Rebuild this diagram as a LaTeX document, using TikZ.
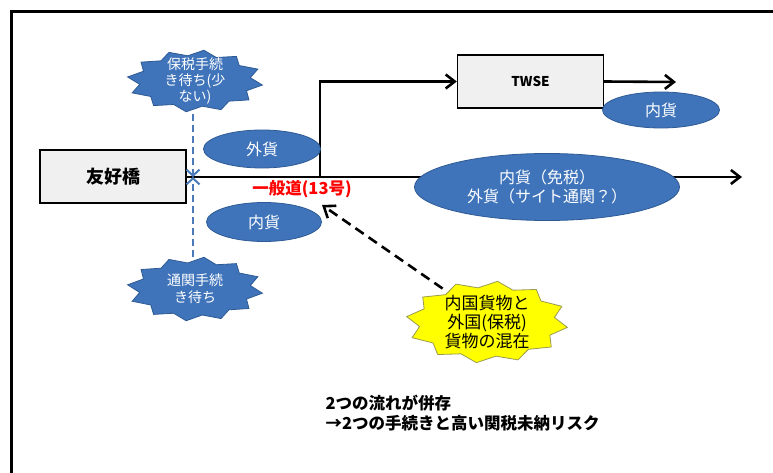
\documentclass[tikz,border=0pt]{standalone}
\usepackage{fontspec}
\setmainfont{Noto Sans CJK JP}
\usetikzlibrary{arrows.meta,shapes.geometric}
\definecolor{eblue}{HTML}{3F74BB}
\definecolor{eborder}{HTML}{2E5A94}
\definecolor{dblue}{HTML}{4A7AB8}
\definecolor{boxgray}{HTML}{F0F0F0}
\definecolor{roadred}{HTML}{FF0000}
\definecolor{ystar}{HTML}{FFFF00}
\definecolor{ystarb}{HTML}{9A9A50}
\pgfdeclarelayer{bg}
\pgfsetlayers{bg,main}
\tikzset{
  box/.style={draw=black,line width=1.4pt,fill=boxgray,minimum width=146pt,minimum height=53pt,font=\bfseries\fontsize{18}{18}\selectfont},
  oval/.style={ellipse,draw=eborder,line width=0.8pt,fill=eblue,text=white,inner sep=0pt,font=\fontsize{16}{19}\selectfont,align=center},
  sealtext/.style={ellipse,draw=none,inner sep=0pt,align=center},
  road/.style={line width=2.6pt,draw=black},
  roadarrow/.style={road,-{Straight Barb[length=9pt,width=14pt,line width=2.6pt]}},
  waitline/.style={draw=dblue,line width=2.6pt,dash pattern=on 7pt off 4pt,-{Straight Barb[length=6pt,width=13pt,line width=2pt]}},
  mixline/.style={draw=black,line width=2.6pt,dash pattern=on 10pt off 6pt,-{Straight Barb[length=10pt,width=15pt,line width=2.6pt]}},
}
\newcommand{\sealshape}[6]{% center, rx, ry, inner ratio, fill, draw
  \path[fill=#5,draw=#6,line width=0.8pt,shift={(#1)}]
    plot[samples at={0,...,23},variable=\i]
    ({(mod(\i,2)==0 ? #2 : #2*#4)*cos(\i*15+7.5)},{(mod(\i,2)==0 ? #3 : #3*#4)*sin(\i*15+7.5)}) -- cycle;}
\begin{document}
\begin{tikzpicture}[x=1pt,y=-1pt]
\useasboundingbox (0,0) rectangle (773,473);
\begin{pgfonlayer}{bg}
\fill[white] (0,0) rectangle (773,473);
\end{pgfonlayer}
% frame
\draw[line width=3pt] (11,480) -- (11,12) -- (780,12);

% boxes
\node[box] (bridge) at (113,176.5) {友好橋};
\node[box,font=\bfseries\fontsize{13.5}{13.5}\selectfont] (twse) at (530.5,81.5) {TWSE};

% ellipses
\node[oval,minimum width=117pt,minimum height=38pt] (gai) at (262,149) {外貨};
\node[oval,minimum width=115pt,minimum height=39pt] (nai) at (264,222) {内貨};
\node[oval,minimum width=117pt,minimum height=36pt] (nai2) at (661,110) {内貨};
\node[oval,minimum width=265pt,minimum height=67pt] (both) at (547,187) {内貨（免税）\\外貨（サイト通関？）};

% seals
\sealshape{195,81}{68}{31}{0.82}{eblue}{eborder}
\node[sealtext,minimum width=136pt,minimum height=62pt,text=white,font=\fontsize{14}{16}\selectfont] (hozei) at (195,81) {保税手続\\き待ち(少\\ない)};
\sealshape{195,289}{68}{32}{0.82}{eblue}{eborder}
\node[sealtext,minimum width=136pt,minimum height=64pt,text=white,font=\fontsize{14}{17}\selectfont] (tsukan) at (195,289) {通関手続\\き待ち};
\sealshape{487,322}{81}{41}{0.84}{ystar}{ystarb}
\node[sealtext,minimum width=160pt,minimum height=80pt,text=black,font=\fontsize{17}{19}\selectfont] (mixed) at (487,322) {内国貨物と\\外国(保税)\\貨物の混在};

% labels
\node[text=roadred,font=\bfseries\fontsize{16.5}{16.5}\selectfont] (roadlbl) at (302,189) {一般道(13号)};
\node[anchor=west,align=left,font=\bfseries\fontsize{16.5}{20}\selectfont] (note) at (322,413) {2つの流れが併存\\→2つの手続きと高い関税未納リスク};

% coordinates
\coordinate (mainend) at (742,177);
\coordinate (fork) at (320,177);
\coordinate (twend) at (676,82);
\coordinate (cross) at (193,177);
\coordinate (mixpt) at (322,205);

\begin{pgfonlayer}{bg}
\draw[roadarrow] (bridge.east |- mainend) -- (mainend);
\draw[roadarrow] (fork) |- (twse.west);
\draw[roadarrow] (twse.east) -- (twend);
\end{pgfonlayer}
\draw[waitline] (hozei.south -| cross) -- (cross);
\draw[waitline] (tsukan.north -| cross) -- (cross);
\draw[mixline] (mixed.143) -- (mixpt);
\end{tikzpicture}
\end{document}
